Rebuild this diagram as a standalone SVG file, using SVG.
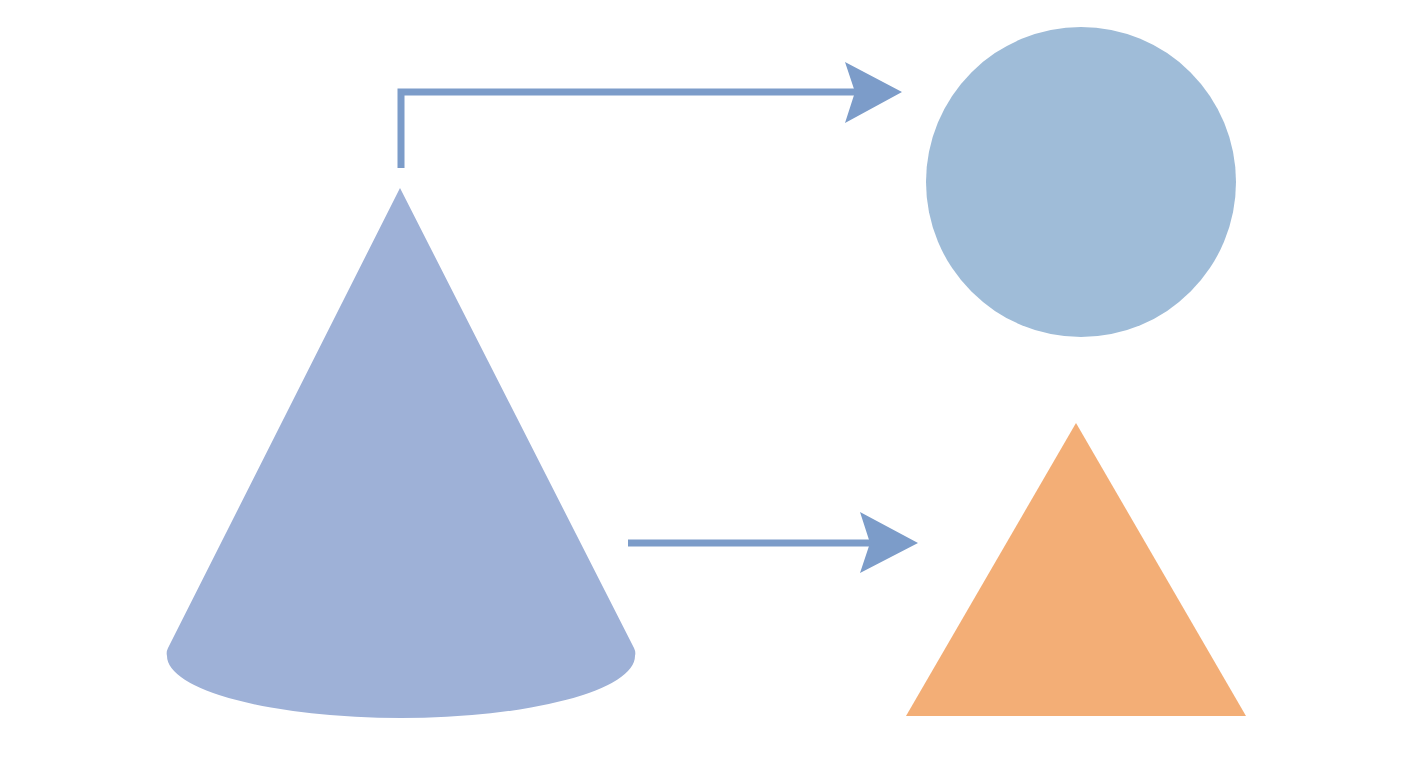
<svg xmlns="http://www.w3.org/2000/svg" width="1408" height="768" viewBox="0 0 1408 768">
<style>
.conn{fill:none;stroke:#7C9CC9;stroke-width:7;stroke-linejoin:miter}
.head{fill:#7C9CC9}
</style>
<rect width="1408" height="768" fill="#FFFFFF"/>
<g id="cone">
<path d="M400,188 L634,648 Q636,652 635,656 A234,62 0 0 1 167,656 Q166,652 168,648 Z" fill="#9EB1D7"/>
</g>
<g id="circle">
<circle cx="1081" cy="182" r="155" fill="#9FBCD8"/>
</g>
<g id="triangle">
<polygon points="1076,423 1246,716 906,716" fill="#F3AE76"/>
</g>
<g id="connectors">
<path class="conn" d="M401,168 L401,92 L858,92"/>
<polygon class="head" points="902,92 845,62 855,92 845,123"/>
<path class="conn" d="M628,543 L872,543"/>
<polygon class="head" points="918,543 860,512 870,543 860,573"/>
</g>
</svg>
